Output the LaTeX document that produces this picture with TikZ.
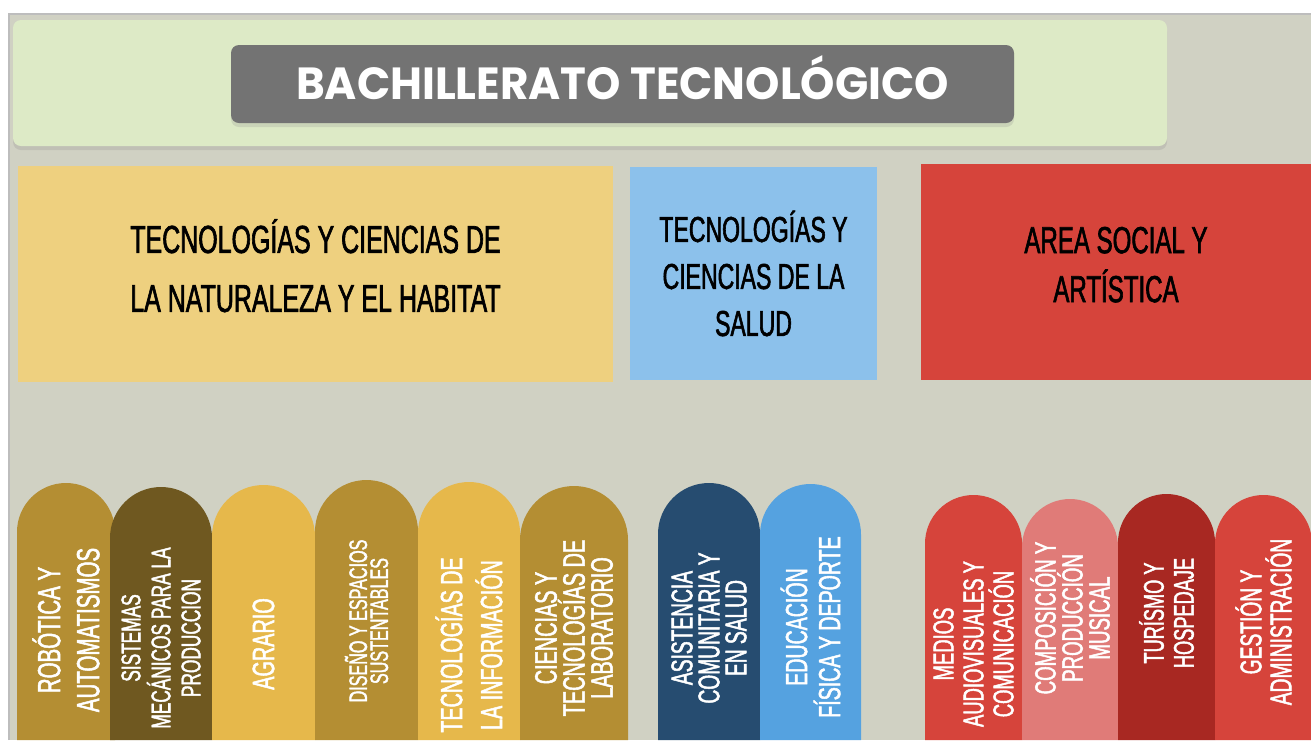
\documentclass[tikz,border=0pt]{standalone}
\usepackage{fontspec}
\usetikzlibrary{shadows}
\newfontfamily\angosta[FakeStretch=0.64,FakeBold=1.6]{Liberation Sans}
\newfontfamily\titular[FakeStretch=0.97]{Poppins}
\definecolor{fondo}{HTML}{D0D1C3}
\definecolor{borde}{HTML}{BDBDBD}
\definecolor{verde}{HTML}{DDEAC6}
\definecolor{gris}{HTML}{737373}
\definecolor{amarillo}{HTML}{EED07F}
\definecolor{azul}{HTML}{8CC1EB}
\definecolor{rojo}{HTML}{D6443B}
\definecolor{oro}{HTML}{B48E33}
\definecolor{cafe}{HTML}{6F5820}
\definecolor{mostaza}{HTML}{E6B84B}
\definecolor{marino}{HTML}{264C70}
\definecolor{celeste}{HTML}{55A2E0}
\definecolor{rosa}{HTML}{E07B78}
\definecolor{granate}{HTML}{A82822}
% pestana: nombre, x izq, y arriba, ancho, color, tam, salto, y centro, texto
\newcommand\pestana[9]{%
	\fill[#5] (#2,740) -- (#2,#3+#4/2) arc[start angle=180, end angle=0, radius=#4*0.25pt] -- (#2+#4,740) -- cycle;
	\node[etiqueta, font={\angosta\fontsize{#6}{#7}\selectfont}] (#1) at (#2+#4/2,#8) {#9};
}

\begin{document}
\begin{tikzpicture}[x=0.5pt, y=-0.5pt,
	caja/.style={rectangle, inner sep=0pt, align=center, text=black},
	etiqueta/.style={rotate=90, align=center, text=white, inner sep=0pt}]
\useasboundingbox (0,0) rectangle (1311,740);
\fill[white] (0,0) rectangle (1311,740);
\fill[fondo] (9,14) rectangle (1311,740);
\draw[borde, line width=1pt] (9,740) -- (9,14) -- (1311,14);

% encabezado
\node[fill=verde, rounded corners=4pt, minimum width=577pt, minimum height=63pt,
	drop shadow={opacity=0.2, shadow xshift=0pt, shadow yshift=-2pt}] (marco) at (590,83) {};
\node[fill=gris, rounded corners=4pt, minimum width=391.5pt, minimum height=39pt,
	text=white, text depth=6pt, font={\titular\bfseries\fontsize{22.5}{27}\selectfont},
	drop shadow={opacity=0.2, shadow xshift=0pt, shadow yshift=-2pt}] (titulo) at (622.5,84) {BACHILLERATO TECNOLÓGICO};

% areas
\node[caja, fill=amarillo, minimum width=297.5pt, minimum height=108pt, text depth=8.5pt,
	font={\angosta\fontsize{19.5}{29.5}\selectfont}] (natur) at (315.5,274)
	{TECNOLOGÍAS Y CIENCIAS DE\\LA NATURALEZA Y EL HABITAT};
\node[caja, fill=azul, minimum width=123.5pt, minimum height=106.5pt,
	font={\angosta\fontsize{18}{23.5}\selectfont}] (salud) at (753.5,273.5)
	{TECNOLOGÍAS Y\\CIENCIAS DE LA\\SALUD};
\node[caja, fill=rojo, minimum width=195pt, minimum height=108pt, text depth=7.5pt,
	font={\angosta\fontsize{18.8}{24.5}\selectfont}] (social) at (1116,272)
	{AREA SOCIAL Y\\ARTÍSTICA};

% orientaciones
\pestana{robot}{17}{483}{98}{oro}{16}{19.5}{630}{ROBÓTICA Y\\AUTOMATISMOS}
\pestana{meca}{110}{487}{102}{cafe}{13.5}{15}{638}{SISTEMAS\\MECÁNICOS PARA LA\\PRODUCCION}
\pestana{agro}{212}{485}{103}{mostaza}{15.5}{18}{644}{AGRARIO}
\pestana{disenio}{315}{480}{103}{oro}{12.6}{10.5}{621}{DISEÑO Y ESPACIOS\\SUSTENTABLES}
\pestana{info}{418}{482}{102}{mostaza}{15.4}{20}{645}{TECNOLOGÍAS DE\\LA INFORMACIÓN}
\pestana{lab}{520}{486}{108}{oro}{15.5}{14}{628}{CIENCIAS Y\\TECNOLOGÍAS DE\\LABORATORIO}
\pestana{asist}{658}{483}{102}{marino}{15}{13.5}{628}{ASISTENCIA\\COMUNITARIA Y\\EN SALUD}
\pestana{edfis}{760}{484}{101}{celeste}{15.3}{16.5}{627}{EDUCACIÓN\\FÍSICA Y DEPORTE}
\pestana{medios}{925}{495}{97}{rojo}{14.4}{15}{644}{MEDIOS\\AUDIOVISUALES Y\\COMUNICACIÓN}
\pestana{musica}{1022}{499}{96}{rosa}{14.6}{13.5}{618}{COMPOSICIÓN Y\\PRODUCCIÓN\\MUSICAL}
\pestana{turismo}{1118}{494}{97}{granate}{14.2}{15}{613}{TURÍSMO Y\\HOSPEDAJE}
\pestana{gestion}{1215}{495}{97}{rojo}{15}{15}{622}{GESTIÓN Y\\ADMINISTRACIÓN}
\end{tikzpicture}
\end{document}
